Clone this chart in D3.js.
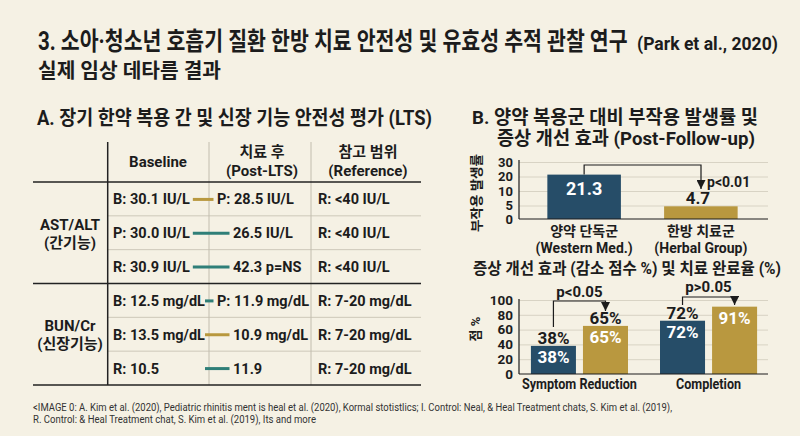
<!DOCTYPE html>
<html>
<head>
<meta charset="utf-8">
<script src="https://cdn.jsdelivr.net/npm/d3@7"></script>
<style>
  html, body { margin: 0; padding: 0; background: #f5f1e4; }
  svg { display: block; font-family: Roboto, "Noto Sans CJK KR", sans-serif; }
</style>
</head>
<body>
<div id="chart"></div>
<script>
// ---- data ----
const titleMain = "3. 소아·청소년 호흡기 질환 한방 치료 안전성 및 유효성 추적 관찰 연구";
const titleCite = "(Park et al., 2020)";
const subtitle = "실제 임상 데타름 결과";
const headingA = "A. 장기 한약 복용 간 및 신장 기능 안전성 평가 (LTS)";
const headingB = ["B. 양약 복용군 대비 부작용 발생률 및", "증상 개선 효과 (Post-Follow-up)"];

// table
const tableHeaders = [["Baseline"], ["치료 후", "(Post-LTS)"], ["참고 범위", "(Reference)"]];
const tableGroups = [["AST/ALT", "(간기능)"], ["BUN/Cr", "(신장기능)"]];
const rowGroup = [0, 0, 0, 1, 1, 1];
const baselineVals = ["B: 30.1 IU/L", "P: 30.0 IU/L", "R: 30.9 IU/L", "B: 12.5 mg/dL", "B: 13.5 mg/dL", "R: 10.5"];
const postVals = ["P: 28.5 IU/L", "26.5 IU/L", "42.3 p=NS", "P: 11.9 mg/dL", "10.9 mg/dL", "11.9"];
const refVals = ["R: <40 IU/L", "R: <40 IU/L", "R: <40 IU/L", "R: 7-20 mg/dL", "R: 7-20 mg/dL", "R: 7-20 mg/dL"];
const connKind = ["herbal", "western", "western", "western", "herbal", "western"];

// adverse event chart
const aeGroups = ["양약 단독군", "한방 치료군"];
const aeGroupsEn = ["(Western Med.)", "(Herbal Group)"];
const aeValues = [21.3, 4.7];
const aeTicks = [0, 5, 10, 20, 30];
const aeAxisTitle = "부작용 발생률";
const aePText = "p<0.01";

// symptom / completion chart
const effTitle = "증상 개선 효과 (감소 점수 %) 및 치료 완료율 (%)";
const effGroups = ["Symptom Reduction", "Completion"];
const effSeries = ["western", "herbal"];
const effWestern = [38, 72];
const effHerbal = [65, 91];
const effOuterLabel = [[true, true], [true, false]];
const effTicks = [0, 20, 40, 60, 80, 100];
const effAxisTitle = "점 %";
const effPText = ["p<0.05", "p>0.05"];

const footnote = [
  "<IMAGE 0: A. Kim et al. (2020), Pediatric rhinitis ment is heal et al. (2020), Kormal stotistlics; I. Control: Neal, & Heal Treatment chats,  S. Kim et al. (2019),",
  "R. Control: & Heal Treatment chat, S. Kim et al. (2019), Its and more"
];

// ---- style ----
const width = 800, height = 436;
const ink = "#1c1c1c";
const colors = { western: "#264d68", herbal: "#b9983f" };
const lineColors = { western: "#2f7f78", herbal: "#b8983e" };
const gridColor = "#d8d3c4";
const cellSize = 14.5;

const svg = d3.select("#chart").append("svg")
  .attr("width", width).attr("height", height)
  .attr("viewBox", `0 0 ${width} ${height}`);

svg.append("rect").attr("width", width).attr("height", height).attr("fill", "#f5f1e4");

function fitText(sel, len) {
  return sel.attr("textLength", len).attr("lengthAdjust", "spacingAndGlyphs");
}
// squeeze a text horizontally with a transform so its box really is len wide
function squeeze(sel, x, y, len) {
  const w = sel.node().getComputedTextLength();
  return sel.attr("transform", `translate(${x},${y}) scale(${len / w},1)`);
}

// ---- titles ----
squeeze(svg.append("text").attr("font-size", 25).attr("font-weight", 700).attr("fill", ink)
  .text(titleMain), 38, 50, 590);
squeeze(svg.append("text").attr("font-size", 18).attr("font-weight", 700).attr("fill", ink)
  .text(titleCite), 637, 50, 141);

fitText(svg.append("text").attr("x", 38).attr("y", 78)
  .attr("font-size", 20).attr("font-weight", 700).attr("fill", ink).text(subtitle), 183);
fitText(svg.append("text").attr("x", 37).attr("y", 125)
  .attr("font-size", 20).attr("font-weight", 700).attr("fill", ink).text(headingA), 395);
fitText(svg.append("text").attr("x", 472).attr("y", 124)
  .attr("font-size", 19).attr("font-weight", 700).attr("fill", ink).text(headingB[0]), 286);
fitText(svg.append("text").attr("x", 497).attr("y", 145)
  .attr("font-size", 19).attr("font-weight", 700).attr("fill", ink).text(headingB[1]), 258);

// ---- table ----
const table = svg.append("g").attr("class", "table");
const tLeft = 33, tRight = 421;
const colX = [107.7, 209, 311];
const colCenter = [158, 262, 368];
const rowY = d3.scaleBand().domain(d3.range(baselineVals.length)).range([182, 385]);

// header texts
tableHeaders.forEach((lines, c) => {
  const ys = lines.length === 1 ? [167] : [157, 176];
  lines.forEach((t, k) => {
    table.append("text").attr("x", colCenter[c]).attr("y", ys[k])
      .attr("text-anchor", "middle").attr("font-size", 15).attr("font-weight", 700)
      .attr("fill", ink).text(t);
  });
});

// row separators (light)
rowY.domain().forEach(i => {
  if (i > 0 && rowGroup[i] === rowGroup[i - 1]) {
    table.append("line").attr("x1", colX[0]).attr("x2", tRight)
      .attr("y1", rowY(i)).attr("y2", rowY(i))
      .attr("stroke", "#cdc8b9").attr("stroke-width", 1);
  }
});
// vertical lines
colX.forEach((x, c) => {
  table.append("line").attr("x1", x).attr("x2", x).attr("y1", 142).attr("y2", 385)
    .attr("stroke", c === 0 ? "#222" : "#c2bdae").attr("stroke-width", c === 0 ? 1.5 : 1);
});
// strong horizontal lines: header bottom, group boundaries, bottom
const strongYs = [rowY(0)];
rowY.domain().forEach(i => { if (i > 0 && rowGroup[i] !== rowGroup[i - 1]) strongYs.push(rowY(i)); });
strongYs.push(rowY(baselineVals.length - 1) + rowY.bandwidth());
strongYs.forEach(y => {
  table.append("line").attr("x1", tLeft).attr("x2", tRight).attr("y1", y).attr("y2", y)
    .attr("stroke", "#222").attr("stroke-width", 1.5);
});

// group labels
tableGroups.forEach((lines, g) => {
  const rows = rowY.domain().filter(i => rowGroup[i] === g);
  const mid = (rowY(rows[0]) + rowY(rows[rows.length - 1]) + rowY.bandwidth()) / 2;
  lines.forEach((t, k) => {
    table.append("text").attr("x", 70).attr("y", mid - 3 + k * 18)
      .attr("text-anchor", "middle").attr("font-size", 15).attr("font-weight", 700)
      .attr("fill", ink).text(t);
  });
});

// cells
const cellY = (d, i) => rowY(i) + rowY.bandwidth() / 2 + 5.5;
const baseTexts = table.selectAll(".base").data(baselineVals).join("text")
  .attr("class", "base").attr("x", 113).attr("y", cellY)
  .attr("font-size", cellSize).attr("font-weight", 700).attr("fill", ink).text(d => d);

table.selectAll(".ref").data(refVals).join("text")
  .attr("class", "ref").attr("x", 318).attr("y", cellY)
  .attr("font-size", cellSize).attr("font-weight", 700).attr("fill", ink).text(d => d);

const postX = d => d.startsWith("P:") ? 217 : 233;
table.selectAll(".post").data(postVals).join("text")
  .attr("class", "post").attr("x", d => postX(d)).attr("y", cellY)
  .attr("font-size", cellSize).attr("font-weight", 700).attr("fill", ink).text(d => d);

// connector lines start after the longest baseline text of each group
const baseEnds = baseTexts.nodes().map(n => 113 + n.getComputedTextLength());
const groupStart = tableGroups.map((g, gi) =>
  Math.min(205, d3.max(baseEnds.filter((e, i) => rowGroup[i] === gi)) + 3));
table.selectAll(".conn").data(postVals).join("line")
  .attr("class", "conn")
  .attr("x1", (d, i) => groupStart[rowGroup[i]])
  .attr("x2", d => postX(d) - 3.5)
  .attr("y1", (d, i) => rowY(i) + rowY.bandwidth() / 2 + 0.5)
  .attr("y2", (d, i) => rowY(i) + rowY.bandwidth() / 2 + 0.5)
  .attr("stroke", (d, i) => lineColors[connKind[i]]).attr("stroke-width", 3);

// ---- arrow marker ----
svg.append("defs").append("marker")
  .attr("id", "arrow").attr("viewBox", "0 0 10 10").attr("refX", 5).attr("refY", 10)
  .attr("markerWidth", 9).attr("markerHeight", 9).attr("markerUnits", "userSpaceOnUse")
  .attr("orient", "0")
  .append("path").attr("d", "M0,0 L10,0 L5,10 Z").attr("fill", ink);

function bracket(g, x1, y1, x2, y2, yTop) {
  g.append("path")
    .attr("d", `M${x1},${y1} V${yTop} H${x2} V${y2}`)
    .attr("fill", "none").attr("stroke", ink).attr("stroke-width", 1.2)
    .attr("marker-end", "url(#arrow)");
}

// ---- chart B1: adverse events ----
const ae = svg.append("g");
const aeX = d3.scaleBand().domain(aeGroups).range([524, 761]).paddingInner(0.37).paddingOuter(0.2);
const aeY = d3.scaleLinear().domain(aeTicks).range([219, 205.5, 191, 176.5, 162]);
const axLeft = 519, axRight = 768;

ae.append("g").attr("transform", `translate(${axLeft},0)`)
  .call(d3.axisLeft(aeY).tickValues(aeTicks.slice(1)).tickSize(-(axRight - axLeft)).tickFormat(""))
  .call(g => g.select(".domain").remove())
  .call(g => g.selectAll("line").attr("stroke", gridColor));

ae.selectAll(".bar").data(aeValues).join("rect")
  .attr("class", "bar")
  .attr("x", (d, i) => aeX(aeGroups[i])).attr("width", aeX.bandwidth())
  .attr("y", d => aeY(d)).attr("height", d => aeY(0) - aeY(d))
  .attr("fill", (d, i) => colors[i === 0 ? "western" : "herbal"]);

ae.append("g").attr("transform", `translate(${axLeft},0)`)
  .call(d3.axisLeft(aeY).tickValues(aeTicks).tickSize(0).tickPadding(6))
  .call(g => g.select(".domain").attr("d", `M0,160 V${aeY(0)}`).attr("stroke", ink).attr("stroke-width", 1.2))
  .call(g => g.selectAll("text").attr("font-size", 13).attr("font-weight", 700).attr("fill", ink)
    .attr("font-family", "Roboto, sans-serif"));

ae.append("line").attr("x1", axLeft).attr("x2", axRight).attr("y1", aeY(0)).attr("y2", aeY(0))
  .attr("stroke", ink).attr("stroke-width", 1.2);

// value labels
ae.append("text").attr("x", aeX(aeGroups[0]) + aeX.bandwidth() / 2).attr("y", aeY(aeValues[0]) + 20)
  .attr("text-anchor", "middle").attr("font-size", 18).attr("font-weight", 700).attr("fill", "#fff")
  .text(aeValues[0]);
ae.append("text").attr("x", aeX(aeGroups[1]) + aeX.bandwidth() / 2 - 3).attr("y", aeY(aeValues[1]) - 2)
  .attr("text-anchor", "middle").attr("font-size", 17).attr("font-weight", 700).attr("fill", ink)
  .text(aeValues[1]);

bracket(ae, aeX(aeGroups[0]) + aeX.bandwidth() / 2, aeY(aeValues[0]), 701, 189, 165);
ae.append("text").attr("x", 707).attr("y", 187).attr("font-size", 14).attr("font-weight", 700)
  .attr("fill", ink).text(aePText);

// category labels
aeGroups.forEach((g, i) => {
  const cx = aeX(g) + aeX.bandwidth() / 2;
  ae.append("text").attr("x", cx).attr("y", 236).attr("text-anchor", "middle")
    .attr("font-size", 14).attr("font-weight", 700).attr("fill", ink).text(g);
  ae.append("text").attr("x", cx).attr("y", 253).attr("text-anchor", "middle")
    .attr("font-size", 14).attr("font-weight", 700).attr("fill", ink).text(aeGroupsEn[i]);
});

fitText(ae.append("text").attr("transform", "translate(481,193) rotate(-90)")
  .attr("text-anchor", "middle").attr("font-size", 13).attr("font-weight", 700).attr("fill", ink)
  .text(aeAxisTitle), 78);

// ---- chart B2: symptom reduction / completion ----
const eff = svg.append("g");
fitText(eff.append("text").attr("x", 473).attr("y", 274).attr("font-size", 16).attr("font-weight", 700)
  .attr("fill", ink).text(effTitle), 308);

const effX0 = d3.scaleBand().domain(effGroups).range([518, 770]).paddingInner(0.248).paddingOuter(0.1);
const effX1 = d3.scaleBand().domain(effSeries).range([0, effX0.bandwidth()]).paddingInner(0.135);
const effY = d3.scaleLinear().domain([0, 100]).range([374, 300]);
const effData = effGroups.map((g, i) => [effWestern[i], effHerbal[i]]);

eff.append("g").attr("transform", `translate(${axLeft},0)`)
  .call(d3.axisLeft(effY).tickValues(effTicks.slice(1)).tickSize(-(axRight - axLeft)).tickFormat(""))
  .call(g => g.select(".domain").remove())
  .call(g => g.selectAll("line").attr("stroke", gridColor));

const groups = eff.selectAll(".grp").data(effData).join("g")
  .attr("class", "grp").attr("transform", (d, i) => `translate(${effX0(effGroups[i])},0)`);

groups.selectAll("rect").data(d => d).join("rect")
  .attr("x", (d, j) => effX1(effSeries[j])).attr("width", effX1.bandwidth())
  .attr("y", d => effY(d)).attr("height", d => effY(0) - effY(d))
  .attr("fill", (d, j) => colors[effSeries[j]]);

groups.each(function(vals, i) {
  const g = d3.select(this);
  vals.forEach((v, j) => {
    const cx = effX1(effSeries[j]) + effX1.bandwidth() / 2;
    g.append("text").attr("x", cx).attr("y", effY(v) + 17).attr("text-anchor", "middle")
      .attr("font-size", 17).attr("font-weight", 700).attr("fill", "#fff").text(v + "%");
    if (effOuterLabel[i][j]) {
      g.append("text").attr("x", cx).attr("y", effY(v) - 2).attr("text-anchor", "middle")
        .attr("font-size", 17).attr("font-weight", 700).attr("fill", ink).text(v + "%");
    }
  });
});

eff.append("g").attr("transform", `translate(${axLeft},0)`)
  .call(d3.axisLeft(effY).tickValues(effTicks).tickSize(0).tickPadding(6))
  .call(g => g.select(".domain").attr("d", `M0,${effY(100) - 1} V${effY(0)}`).attr("stroke", ink).attr("stroke-width", 1.2))
  .call(g => g.selectAll("text").attr("font-size", 13.5).attr("font-weight", 700).attr("fill", ink)
    .attr("font-family", "Roboto, sans-serif"));

eff.append("line").attr("x1", axLeft).attr("x2", axRight).attr("y1", effY(0)).attr("y2", effY(0))
  .attr("stroke", ink).attr("stroke-width", 1.2);

// significance brackets
const bx = (i, j) => effX0(effGroups[i]) + effX1(effSeries[j]) + effX1.bandwidth() / 2;
bracket(eff, bx(0, 0), 327, bx(0, 1), 311, 301);
bracket(eff, bx(1, 0), 305, bx(1, 1), 305, 297);
eff.append("text").attr("x", (bx(0, 0) + bx(0, 1)) / 2).attr("y", 297).attr("text-anchor", "middle")
  .attr("font-size", 15).attr("font-weight", 700).attr("fill", ink).text(effPText[0]);
eff.append("text").attr("x", (bx(1, 0) + bx(1, 1)) / 2).attr("y", 292).attr("text-anchor", "middle")
  .attr("font-size", 15).attr("font-weight", 700).attr("fill", ink).text(effPText[1]);

// category labels
const catLens = [115, 65];
effGroups.forEach((g, i) => {
  fitText(eff.append("text").attr("x", effX0(g) + effX0.bandwidth() / 2 - catLens[i] / 2).attr("y", 389)
    .attr("font-size", 15).attr("font-weight", 700).attr("fill", ink).text(g), catLens[i]);
});

eff.append("text").attr("transform", "translate(480,329) rotate(-90)")
  .attr("text-anchor", "middle").attr("font-size", 13).attr("font-weight", 700).attr("fill", ink)
  .text(effAxisTitle);

// ---- footnote ----
const footLens = [639, 283];
footnote.forEach((t, i) => {
  fitText(svg.append("text").attr("x", 33).attr("y", 410.5 + i * 12.5)
    .attr("font-size", 11).attr("fill", "#333").text(t), footLens[i]);
});
</script>
</body>
</html>
